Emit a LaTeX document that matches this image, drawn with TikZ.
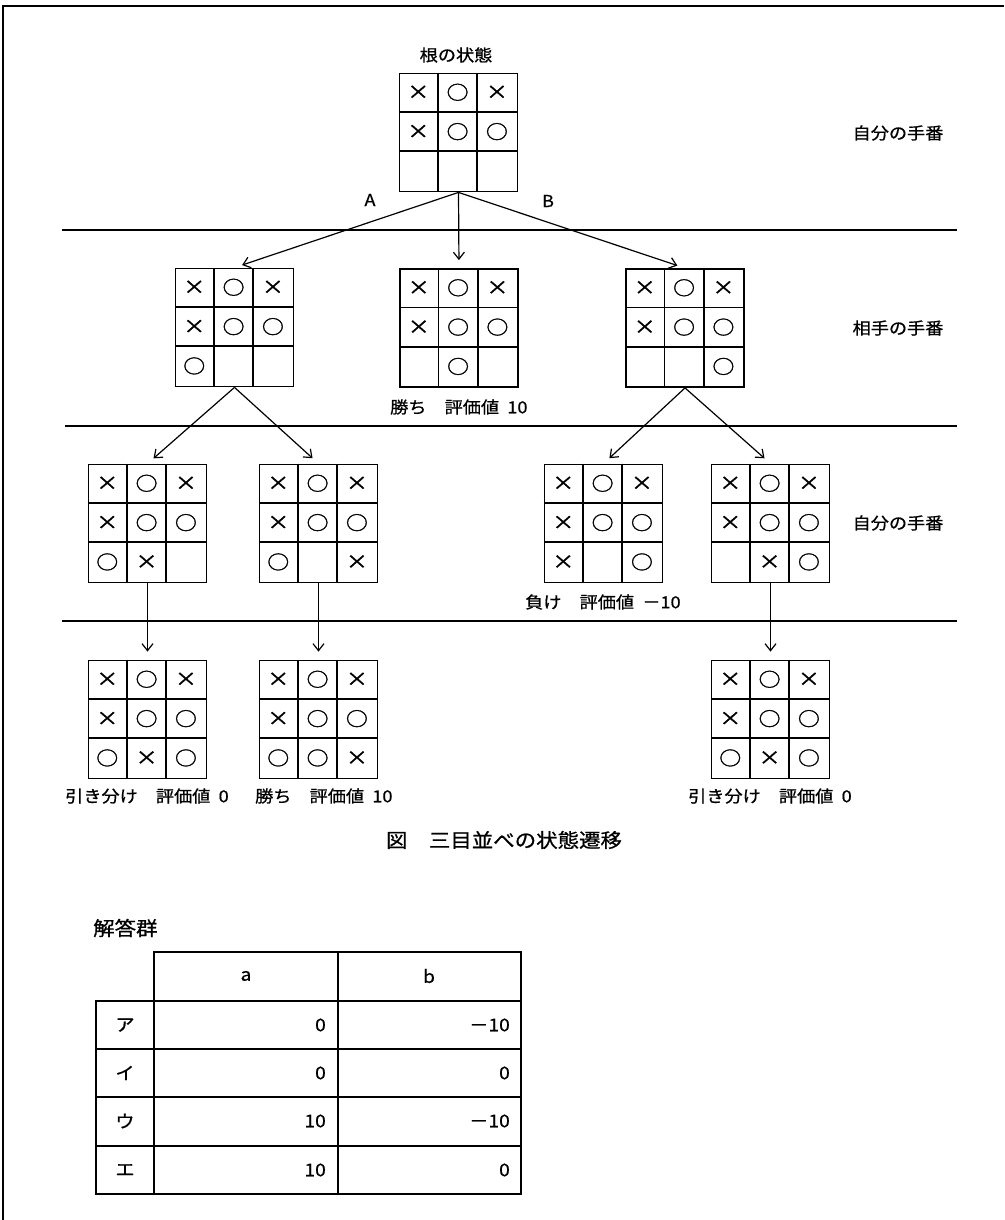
\documentclass[tikz,border=0pt]{standalone}
\usepackage{fontspec}
\setmainfont{Noto Sans CJK JP}[FakeStretch=1.1,FakeBold=0.8]
\newfontfamily\markfont{Noto Sans CJK JP}[FakeStretch=1.15,FakeBold=1.5]
\usetikzlibrary{calc,arrows.meta}
\tikzset{
  board/.style={draw,line width=1.8pt,minimum width=118pt,minimum height=118pt,inner sep=0pt},
  gridline/.style={line width=1.8pt},
  cellmark/.style={inner sep=0pt,font=\markfont\fontsize{19pt}{19pt}\selectfont},
  lbl/.style={inner sep=0pt,anchor=west,font=\fontsize{16.5pt}{18pt}\selectfont},
  side/.style={inner sep=0pt,font=\fontsize{16.5pt}{18pt}\selectfont},
  tbl/.style={inner sep=0pt,font=\fontsize{17.5pt}{18pt}\selectfont},
  sep/.style={line width=1.6pt},
  arr/.style={line width=1.2pt,-{Straight Barb[length=7pt,width=11pt]},shorten >=8pt},
}
\def\markx{×}\def\marko{○}\def\markn{}
\newcommand\gapsp{\hspace{0.5em}}
\newcommand\tttboard[3]{%
  \node[board] (#1) at (#2) {};
  \draw[gridline] ($(#1.north west)+(39.33,0)$) -- ($(#1.south west)+(39.33,0)$);
  \draw[gridline] ($(#1.north west)+(78.67,0)$) -- ($(#1.south west)+(78.67,0)$);
  \draw[gridline] ($(#1.north west)+(0,39.33)$) -- ($(#1.north east)+(0,39.33)$);
  \draw[gridline] ($(#1.north west)+(0,78.67)$) -- ($(#1.north east)+(0,78.67)$);
  \foreach \m [count=\i from 0, evaluate=\i as \c using {mod(\i,3)}, evaluate=\i as \r using {int(\i/3)}] in {#3} {
    \node[cellmark] (#1-\i) at ($(#1.north west)+(19.67+39.33*\c,19.67+39.33*\r)$) {\csname mark\m\endcsname};
  }
}
\begin{document}
\begin{tikzpicture}[x=1pt,y=-1pt]
\useasboundingbox (0,0) rectangle (1004,1220);
% frame
\draw[line width=1.8pt] (1004,6) -- (3,6) -- (3,1220);
% separators
\draw[sep] (62,230) -- (957,230);
\draw[sep] (65,426) -- (957,426);
\draw[sep] (62,621) -- (957,621);
% title
\node[side] (title) at (456,55) {根の状態};
% boards
\tttboard{root}{458.5,132.5}{x,o,x,x,o,o,n,n,n}
\tttboard{lA}{234.5,327.5}{x,o,x,x,o,o,o,n,n}
\tttboard{lM}{459,328}{x,o,x,x,o,o,n,o,n}
\tttboard{lB}{685,328}{x,o,x,x,o,o,n,n,o}
\tttboard{mA}{147.5,523.5}{x,o,x,x,o,o,o,x,n}
\tttboard{mB}{318.5,523.5}{x,o,x,x,o,o,o,n,x}
\tttboard{mC}{603.5,523.5}{x,o,x,x,o,o,x,n,o}
\tttboard{mD}{770.5,523.5}{x,o,x,x,o,o,n,x,o}
\tttboard{bA}{147.5,719.5}{x,o,x,x,o,o,o,x,o}
\tttboard{bB}{318.5,719.5}{x,o,x,x,o,o,o,o,x}
\tttboard{bD}{770.5,719.5}{x,o,x,x,o,o,o,x,o}
% arrows
\draw[arr] (root.south) -- (lA.north);
\draw[arr] (root.south) -- (lM.north);
\draw[arr] (root.south) -- (lB.north);
\draw[arr] (lA.south) -- (mA.north);
\draw[arr] (lA.south) -- (mB.north);
\draw[arr] (lB.south) -- (mC.north);
\draw[arr] (lB.south) -- (mD.north);
\draw[arr] (mA.south) -- (bA.north);
\draw[arr] (mB.south) -- (bB.north);
\draw[arr] (mD.south) -- (bD.north);
% edge labels
\node[side] (labA) at (370,200) {A};
\node[side] (labB) at (548,201) {B};
% side labels
\node[side] (turn1) at (898,133) {自分の手番};
\node[side] (turn2) at (898,328) {相手の手番};
\node[side] (turn3) at (898,523) {自分の手番};
% result labels
\node[lbl] (resM) at (390,407) {勝ち　評価値\gapsp 10};
\node[lbl] (resC) at (525,602) {負け　評価値\gapsp －10};
\node[lbl] (resA) at (65,796) {引き分け　評価値\gapsp 0};
\node[lbl] (resB) at (255,796) {勝ち　評価値\gapsp 10};
\node[lbl] (resD) at (688,796) {引き分け　評価値\gapsp 0};
% caption
\node[inner sep=0pt,font=\fontsize{19.5pt}{21pt}\selectfont] (cap) at (504,840) {図　三目並べの状態遷移};
\node[inner sep=0pt,anchor=west,font=\fontsize{19.5pt}{21pt}\selectfont] (ans) at (93,928) {解答群};
% table
\draw[line width=1.6pt] (154,952) rectangle (521,1001);
\draw[line width=1.6pt] (338,952) -- (338,1194);
\draw[line width=1.6pt] (96,1001) rectangle (521,1194);
\draw[line width=1.6pt] (154,1001) -- (154,1194);
\draw[line width=1.6pt] (96,1049) -- (521,1049);
\draw[line width=1.6pt] (96,1097) -- (521,1097);
\draw[line width=1.6pt] (96,1146) -- (521,1146);
\node[tbl] (ha) at (246,976) {a};
\node[tbl] (hb) at (429,976) {b};
\node[tbl] (r1) at (125,1025) {ア};
\node[tbl] (r2) at (125,1073) {イ};
\node[tbl] (r3) at (125,1121) {ウ};
\node[tbl] (r4) at (125,1170) {エ};
\node[tbl,anchor=east] (a1) at (326,1025) {0};
\node[tbl,anchor=east] (a2) at (326,1073) {0};
\node[tbl,anchor=east] (a3) at (326,1121) {10};
\node[tbl,anchor=east] (a4) at (326,1170) {10};
\node[tbl,anchor=east] (b1) at (510,1025) {－10};
\node[tbl,anchor=east] (b2) at (510,1073) {0};
\node[tbl,anchor=east] (b3) at (510,1121) {－10};
\node[tbl,anchor=east] (b4) at (510,1170) {0};
\end{tikzpicture}
\end{document}
